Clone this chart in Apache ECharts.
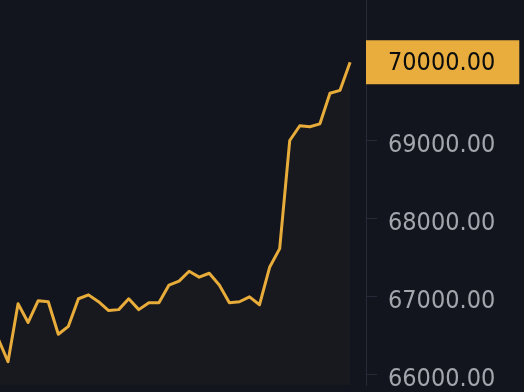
<!DOCTYPE html>
<html>
<head>
<meta charset="utf-8">
<style>
  html, body { margin: 0; padding: 0; background: #12151d; }
  #chart { width: 524px; height: 392px; }
</style>
<script src="https://cdn.jsdelivr.net/npm/echarts@6/dist/echarts.min.js"></script>
</head>
<body>
<div id="chart"></div>
<script>
// Price values (one per period); the first point lies just left of the visible area
const prices = [66466, 66164, 66907, 66667, 66945, 66932, 66516, 66617, 66970, 67020,
  66932, 66819, 66831, 66970, 66831, 66919, 66919, 67146, 67196, 67322,
  67247, 67297, 67146, 66919, 66932, 66995, 66894, 67373, 67612, 68997,
  69186, 69174, 69211, 69602, 69640, 70000];
// Period indices (x positions on the hidden value axis)
const periods = prices.map((_, i) => i);
// Tick values on the right price axis
const tickValues = [66000, 67000, 68000, 69000, 70000];
const lastPrice = prices[prices.length - 1];

const chart = echarts.init(document.getElementById('chart'));
chart.setOption({
  animation: false,
  backgroundColor: '#12151d',
  grid: { left: 0, right: 158, top: 0, bottom: 0 },
  xAxis: {
    type: 'value',
    min: 0.205,
    max: 36.58,
    show: false
  },
  yAxis: {
    type: 'value',
    position: 'right',
    min: 65861,
    max: 70797,
    splitLine: { show: false },
    axisLine: { show: true, lineStyle: { color: '#262b37', width: 1 } },
    axisTick: { show: true, length: 11, lineStyle: { color: '#262b37' }, customValues: tickValues },
    axisLabel: {
      customValues: tickValues,
      margin: 0,
      formatter: function (v) {
        const s = v.toFixed(2);
        return v === lastPrice ? '{hl|' + s + '}' : '{n|' + s + '}';
      },
      rich: {
        n: {
          fontFamily: 'DejaVu Sans Condensed',
          fontSize: 25,
          color: '#a3a6ad',
          padding: [10, 0, 0, 22]
        },
        hl: {
          fontFamily: 'DejaVu Sans Condensed',
          fontSize: 25,
          color: '#0b0c0e',
          backgroundColor: '#e8ad3d',
          padding: [11, 24, 8, 22]
        }
      }
    }
  },
  series: [{
    type: 'line',
    data: periods.map((p, i) => [p, prices[i]]),
    showSymbol: false,
    symbol: 'none',
    lineStyle: { color: '#e8ac3b', width: 3, join: 'round' },
    areaStyle: { color: 'rgba(233,173,62,0.045)' },
    clip: true
  }]
});
</script>
</body>
</html>
